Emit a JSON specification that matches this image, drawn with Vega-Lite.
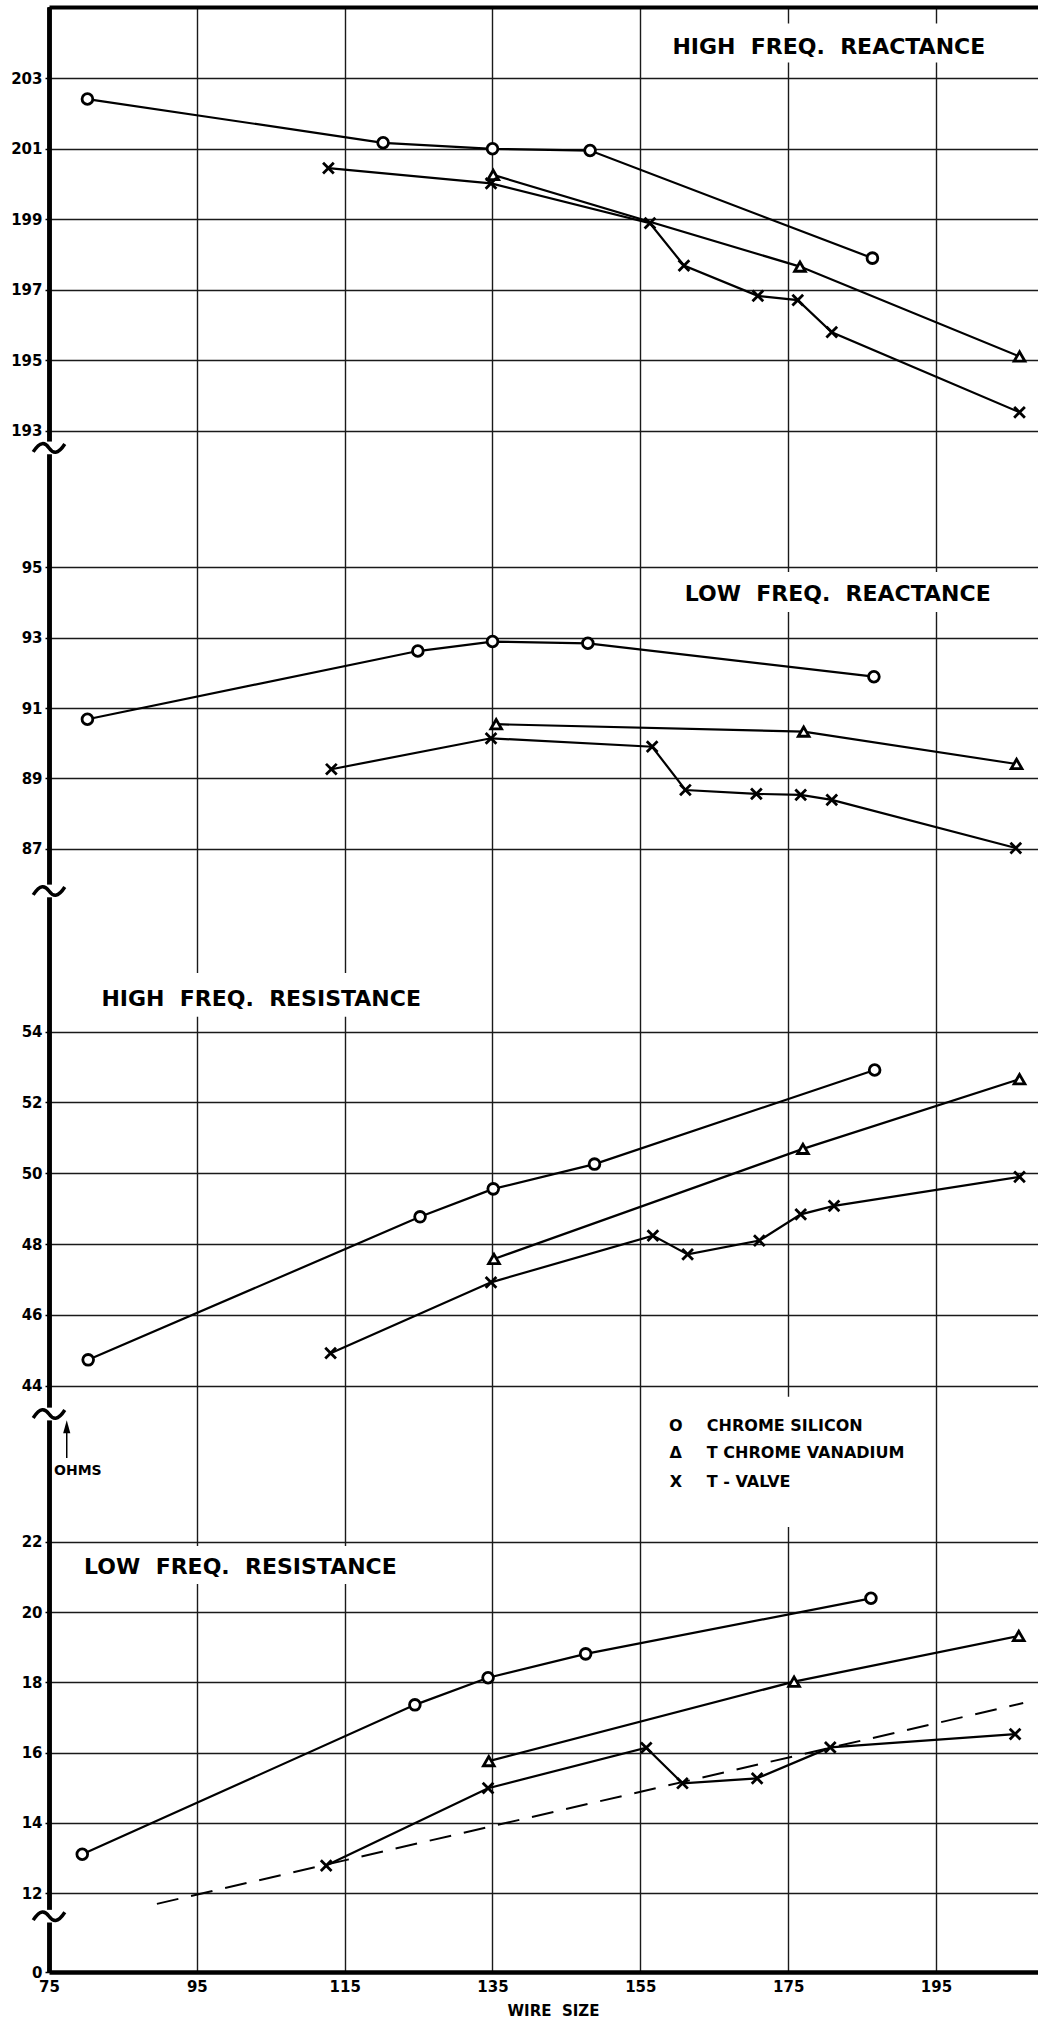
{
  "$schema": "https://vega.github.io/schema/vega-lite/v6.json",
  "width": 989,
  "height": 1965,
  "autosize": {"type": "none"},
  "padding": {"left": 49, "top": 7, "right": 0, "bottom": 48},
  "background": "white",
  "config": {
    "view": {"stroke": null},
    "font": "DejaVu Sans",
    "axis": {
      "domainColor": "black", "domainWidth": 4,
      "tickColor": "black", "tickWidth": 1.5, "tickSize": 4,
      "gridColor": "#1a1a1a", "gridWidth": 1.4, "gridOpacity": 1,
      "labelFont": "DejaVu Sans", "labelFontWeight": "bold", "labelFontSize": 15, "labelColor": "black", "labelPadding": 3,
      "titleFont": "DejaVu Sans", "titleFontWeight": "bold", "titleColor": "black"
    },
    "text": {"font": "DejaVu Sans", "fontWeight": "bold", "color": "black", "baseline": "middle"}
  },
  "datasets": {
    "curves": [
      {"panel": "HFX", "series": "CHROME SILICON", "wire": 80.2, "value": 202.41},
      {"panel": "HFX", "series": "CHROME SILICON", "wire": 120.2, "value": 201.17},
      {"panel": "HFX", "series": "CHROME SILICON", "wire": 135.0, "value": 201.0},
      {"panel": "HFX", "series": "CHROME SILICON", "wire": 148.2, "value": 200.95},
      {"panel": "HFX", "series": "CHROME SILICON", "wire": 186.4, "value": 197.9},
      {"panel": "HFX", "series": "T CHROME VANADIUM", "wire": 135.1, "value": 200.26},
      {"panel": "HFX", "series": "T CHROME VANADIUM", "wire": 176.6, "value": 197.66},
      {"panel": "HFX", "series": "T CHROME VANADIUM", "wire": 206.3, "value": 195.11},
      {"panel": "HFX", "series": "T - VALVE", "wire": 112.8, "value": 200.45},
      {"panel": "HFX", "series": "T - VALVE", "wire": 134.8, "value": 200.02},
      {"panel": "HFX", "series": "T - VALVE", "wire": 156.3, "value": 198.89},
      {"panel": "HFX", "series": "T - VALVE", "wire": 160.9, "value": 197.69},
      {"panel": "HFX", "series": "T - VALVE", "wire": 170.9, "value": 196.83},
      {"panel": "HFX", "series": "T - VALVE", "wire": 176.3, "value": 196.71},
      {"panel": "HFX", "series": "T - VALVE", "wire": 180.9, "value": 195.8},
      {"panel": "HFX", "series": "T - VALVE", "wire": 206.3, "value": 193.53},

      {"panel": "LFX", "series": "CHROME SILICON", "wire": 80.2, "value": 90.68},
      {"panel": "LFX", "series": "CHROME SILICON", "wire": 124.9, "value": 92.62},
      {"panel": "LFX", "series": "CHROME SILICON", "wire": 135.0, "value": 92.89},
      {"panel": "LFX", "series": "CHROME SILICON", "wire": 147.9, "value": 92.84},
      {"panel": "LFX", "series": "CHROME SILICON", "wire": 186.6, "value": 91.89},
      {"panel": "LFX", "series": "T CHROME VANADIUM", "wire": 135.5, "value": 90.54},
      {"panel": "LFX", "series": "T CHROME VANADIUM", "wire": 177.1, "value": 90.33},
      {"panel": "LFX", "series": "T CHROME VANADIUM", "wire": 205.9, "value": 89.41},
      {"panel": "LFX", "series": "T - VALVE", "wire": 113.2, "value": 89.26},
      {"panel": "LFX", "series": "T - VALVE", "wire": 134.8, "value": 90.14},
      {"panel": "LFX", "series": "T - VALVE", "wire": 156.6, "value": 89.9},
      {"panel": "LFX", "series": "T - VALVE", "wire": 161.1, "value": 88.67},
      {"panel": "LFX", "series": "T - VALVE", "wire": 170.7, "value": 88.56},
      {"panel": "LFX", "series": "T - VALVE", "wire": 176.7, "value": 88.53},
      {"panel": "LFX", "series": "T - VALVE", "wire": 180.9, "value": 88.39},
      {"panel": "LFX", "series": "T - VALVE", "wire": 205.8, "value": 87.02},

      {"panel": "HFR", "series": "CHROME SILICON", "wire": 80.3, "value": 44.73},
      {"panel": "HFR", "series": "CHROME SILICON", "wire": 125.2, "value": 48.77},
      {"panel": "HFR", "series": "CHROME SILICON", "wire": 135.1, "value": 49.56},
      {"panel": "HFR", "series": "CHROME SILICON", "wire": 148.8, "value": 50.26},
      {"panel": "HFR", "series": "CHROME SILICON", "wire": 186.7, "value": 52.92},
      {"panel": "HFR", "series": "T CHROME VANADIUM", "wire": 135.2, "value": 47.58},
      {"panel": "HFR", "series": "T CHROME VANADIUM", "wire": 177.0, "value": 50.69},
      {"panel": "HFR", "series": "T CHROME VANADIUM", "wire": 206.3, "value": 52.66},
      {"panel": "HFR", "series": "T - VALVE", "wire": 113.1, "value": 44.92},
      {"panel": "HFR", "series": "T - VALVE", "wire": 134.8, "value": 46.92},
      {"panel": "HFR", "series": "T - VALVE", "wire": 156.7, "value": 48.24},
      {"panel": "HFR", "series": "T - VALVE", "wire": 161.4, "value": 47.71},
      {"panel": "HFR", "series": "T - VALVE", "wire": 171.1, "value": 48.1},
      {"panel": "HFR", "series": "T - VALVE", "wire": 176.7, "value": 48.84},
      {"panel": "HFR", "series": "T - VALVE", "wire": 181.2, "value": 49.08},
      {"panel": "HFR", "series": "T - VALVE", "wire": 206.3, "value": 49.9},

      {"panel": "LFR", "series": "CHROME SILICON", "wire": 79.5, "value": 13.11},
      {"panel": "LFR", "series": "CHROME SILICON", "wire": 124.5, "value": 17.36},
      {"panel": "LFR", "series": "CHROME SILICON", "wire": 134.4, "value": 18.13},
      {"panel": "LFR", "series": "CHROME SILICON", "wire": 147.6, "value": 18.81},
      {"panel": "LFR", "series": "CHROME SILICON", "wire": 186.2, "value": 20.39},
      {"panel": "LFR", "series": "T CHROME VANADIUM", "wire": 134.5, "value": 15.76},
      {"panel": "LFR", "series": "T CHROME VANADIUM", "wire": 175.8, "value": 18.02},
      {"panel": "LFR", "series": "T CHROME VANADIUM", "wire": 206.2, "value": 19.32},
      {"panel": "LFR", "series": "T - VALVE", "wire": 112.5, "value": 12.79},
      {"panel": "LFR", "series": "T - VALVE", "wire": 134.4, "value": 14.99},
      {"panel": "LFR", "series": "T - VALVE", "wire": 155.8, "value": 16.14},
      {"panel": "LFR", "series": "T - VALVE", "wire": 160.7, "value": 15.13},
      {"panel": "LFR", "series": "T - VALVE", "wire": 170.8, "value": 15.27},
      {"panel": "LFR", "series": "T - VALVE", "wire": 180.7, "value": 16.15},
      {"panel": "LFR", "series": "T - VALVE", "wire": 205.7, "value": 16.53},
      {"panel": "LFR", "series": "TREND", "wire": 89.6, "value": 11.7},
      {"panel": "LFR", "series": "TREND", "wire": 206.8, "value": 17.41}
    ]
  },
  "resolve": {"scale": {"y": "independent"}, "axis": {"x": "independent", "y": "independent"}},
  "layer": [
    {
      "layer": [
        {"data": {"name": "curves"}, "transform": [{"filter": "datum.panel === 'HFX'"}],
         "mark": {"type": "line", "color": "black", "strokeWidth": 2.2},
         "encoding": {
           "x": {"field": "wire", "type": "quantitative", "scale": {"domain": [75, 208.8], "nice": false, "zero": false},
                 "axis": {"orient": "top", "labels": false, "ticks": false, "grid": false, "domainWidth": 4, "title": null}},
           "y": {"field": "value", "type": "quantitative", "scale": {"domain": [149.31, 205.02], "nice": false, "zero": false},
                 "axis": {"orient": "left", "values": [193, 195, 197, 199, 201, 203], "grid": true, "title": null}},
           "detail": {"field": "series"}}},
        {"data": {"values": [{}]}, "mark": {"type": "rect", "color": "white"},
         "encoding": {"x": {"datum": 157.6, "type": "quantitative"}, "x2": {"datum": 203.0},
                      "y": {"datum": 204.55, "type": "quantitative"}, "y2": {"datum": 203.45}}},
        {"data": {"name": "curves"}, "transform": [{"filter": "datum.panel === 'HFX'"}],
         "mark": {"type": "point", "filled": false, "fill": "white", "stroke": "black", "strokeWidth": 2.8, "size": 115, "opacity": 1},
         "encoding": {
           "x": {"field": "wire", "type": "quantitative"},
           "y": {"field": "value", "type": "quantitative"},
           "shape": {"field": "series", "type": "nominal", "scale": {"domain": ["CHROME SILICON", "T CHROME VANADIUM", "T - VALVE"], "range": ["circle", "triangle-up", "M-1,-1L1,1M-1,1L1,-1"]}, "legend": null}}},
        {"data": {"values": [{}]}, "mark": {"type": "text", "fontSize": 22, "align": "center"},
         "encoding": {"x": {"datum": 180.5, "type": "quantitative"}, "y": {"datum": 203.89, "type": "quantitative"},
                      "text": {"value": "HIGH\u00a0 FREQ.\u00a0 REACTANCE"}}},
        {"data": {"values": [{}]}, "mark": {"type": "rule", "color": "white", "strokeWidth": 9},
         "encoding": {"x": {"datum": 75, "type": "quantitative"}, "y": {"datum": 192.7, "type": "quantitative"}, "y2": {"datum": 192.34}}},
        {"data": {"values": [{}]}, "mark": {"type": "point", "shape": "M-1,0.25C-0.55,-0.45 -0.25,-0.35 0,0C0.25,0.35 0.55,0.45 1,-0.25", "filled": false, "stroke": "black", "strokeWidth": 3.5, "size": 1000, "opacity": 1},
         "encoding": {"x": {"datum": 75, "type": "quantitative"}, "y": {"datum": 192.52, "type": "quantitative"}}}
      ]
    },
    {
      "layer": [
        {"data": {"name": "curves"}, "transform": [{"filter": "datum.panel === 'LFX'"}],
         "mark": {"type": "line", "color": "black", "strokeWidth": 2.2},
         "encoding": {
           "x": {"field": "wire", "type": "quantitative", "scale": {"domain": [75, 208.8], "nice": false, "zero": false}, "axis": null},
           "y": {"field": "value", "type": "quantitative", "scale": {"domain": [55.071, 110.927], "nice": false, "zero": false},
                 "axis": {"orient": "left", "values": [87, 89, 91, 93, 95], "grid": true, "title": null}},
           "detail": {"field": "series"}}},
        {"data": {"values": [{}]}, "mark": {"type": "rect", "color": "white"},
         "encoding": {"x": {"datum": 160.0, "type": "quantitative", "axis": null}, "x2": {"datum": 203.4},
                      "y": {"datum": 94.87, "type": "quantitative"}, "y2": {"datum": 93.73}}},
        {"data": {"name": "curves"}, "transform": [{"filter": "datum.panel === 'LFX'"}],
         "mark": {"type": "point", "filled": false, "fill": "white", "stroke": "black", "strokeWidth": 2.8, "size": 115, "opacity": 1},
         "encoding": {
           "x": {"field": "wire", "type": "quantitative", "axis": null},
           "y": {"field": "value", "type": "quantitative"},
           "shape": {"field": "series", "type": "nominal", "scale": {"domain": ["CHROME SILICON", "T CHROME VANADIUM", "T - VALVE"], "range": ["circle", "triangle-up", "M-1,-1L1,1M-1,1L1,-1"]}, "legend": null}}},
        {"data": {"values": [{}]}, "mark": {"type": "text", "fontSize": 22, "align": "center"},
         "encoding": {"x": {"datum": 181.7, "type": "quantitative", "axis": null}, "y": {"datum": 94.24, "type": "quantitative"},
                      "text": {"value": "LOW\u00a0 FREQ.\u00a0 REACTANCE"}}},
        {"data": {"values": [{}]}, "mark": {"type": "rule", "color": "white", "strokeWidth": 9},
         "encoding": {"x": {"datum": 75, "type": "quantitative", "axis": null}, "y": {"datum": 85.98, "type": "quantitative"}, "y2": {"datum": 85.62}}},
        {"data": {"values": [{}]}, "mark": {"type": "point", "shape": "M-1,0.25C-0.55,-0.45 -0.25,-0.35 0,0C0.25,0.35 0.55,0.45 1,-0.25", "filled": false, "stroke": "black", "strokeWidth": 3.5, "size": 1000, "opacity": 1},
         "encoding": {"x": {"datum": 75, "type": "quantitative", "axis": null}, "y": {"datum": 85.8, "type": "quantitative"}}}
      ]
    },
    {
      "layer": [
        {"data": {"name": "curves"}, "transform": [{"filter": "datum.panel === 'HFR'"}],
         "mark": {"type": "line", "color": "black", "strokeWidth": 2.2},
         "encoding": {
           "x": {"field": "wire", "type": "quantitative", "scale": {"domain": [75, 208.8], "nice": false, "zero": false}, "axis": null},
           "y": {"field": "value", "type": "quantitative", "scale": {"domain": [27.438, 82.946], "nice": false, "zero": false},
                 "axis": {"orient": "left", "values": [44, 46, 48, 50, 52, 54], "grid": true, "title": null}},
           "detail": {"field": "series"}}},
        {"data": {"values": [{}]}, "mark": {"type": "rect", "color": "white"},
         "encoding": {"x": {"datum": 80.5, "type": "quantitative", "axis": null}, "x2": {"datum": 126.8},
                      "y": {"datum": 55.66, "type": "quantitative"}, "y2": {"datum": 54.42}}},
        {"data": {"name": "curves"}, "transform": [{"filter": "datum.panel === 'HFR'"}],
         "mark": {"type": "point", "filled": false, "fill": "white", "stroke": "black", "strokeWidth": 2.8, "size": 115, "opacity": 1},
         "encoding": {
           "x": {"field": "wire", "type": "quantitative", "axis": null},
           "y": {"field": "value", "type": "quantitative"},
           "shape": {"field": "series", "type": "nominal", "scale": {"domain": ["CHROME SILICON", "T CHROME VANADIUM", "T - VALVE"], "range": ["circle", "triangle-up", "M-1,-1L1,1M-1,1L1,-1"]}, "legend": null}}},
        {"data": {"values": [{}]}, "mark": {"type": "text", "fontSize": 22, "align": "center"},
         "encoding": {"x": {"datum": 103.7, "type": "quantitative", "axis": null}, "y": {"datum": 54.91, "type": "quantitative"},
                      "text": {"value": "HIGH\u00a0 FREQ.\u00a0 RESISTANCE"}}},
        {"data": {"values": [{}]}, "mark": {"type": "rule", "color": "white", "strokeWidth": 9},
         "encoding": {"x": {"datum": 75, "type": "quantitative", "axis": null}, "y": {"datum": 43.38, "type": "quantitative"}, "y2": {"datum": 43.02}}},
        {"data": {"values": [{}]}, "mark": {"type": "point", "shape": "M-1,0.25C-0.55,-0.45 -0.25,-0.35 0,0C0.25,0.35 0.55,0.45 1,-0.25", "filled": false, "stroke": "black", "strokeWidth": 3.5, "size": 1000, "opacity": 1},
         "encoding": {"x": {"datum": 75, "type": "quantitative", "axis": null}, "y": {"datum": 43.2, "type": "quantitative"}}}
      ]
    },
    {
      "layer": [
        {"data": {"name": "curves"}, "transform": [{"filter": "datum.panel === 'LFR' && datum.series !== 'TREND'"}],
         "mark": {"type": "line", "color": "black", "strokeWidth": 2.2},
         "encoding": {
           "x": {"field": "wire", "type": "quantitative", "scale": {"domain": [75, 208.8], "nice": false, "zero": false},
                 "axis": {"orient": "bottom", "values": [75, 95, 115, 135, 155, 175, 195], "grid": true, "ticks": false, "tickSize": 0,
                          "domainWidth": 4.5, "labelFlush": false, "labelPadding": 7, "labelFontSize": 15,
                          "title": "WIRE\u00a0 SIZE", "titleFontSize": 15, "titleX": 504, "titleY": 38, "titleAlign": "center", "titleBaseline": "middle"}},
           "y": {"field": "value", "type": "quantitative", "scale": {"domain": [9.762, 65.649], "nice": false, "zero": false},
                 "axis": {"orient": "left", "values": [9.762, 12, 14, 16, 18, 20, 22], "grid": true, "title": null,
                          "labelExpr": "datum.value < 10 ? '0' : datum.label"}},
           "detail": {"field": "series"}}},
        {"data": {"values": [{}]}, "mark": {"type": "rect", "color": "white"},
         "encoding": {"x": {"datum": 78.9, "type": "quantitative"}, "x2": {"datum": 122.7},
                      "y": {"datum": 21.88, "type": "quantitative"}, "y2": {"datum": 20.8}}},
        {"data": {"values": [{}]}, "mark": {"type": "rect", "color": "white"},
         "encoding": {"x": {"datum": 157.0, "type": "quantitative"}, "x2": {"datum": 193.5},
                      "y": {"datum": 26.12, "type": "quantitative"}, "y2": {"datum": 22.42}}},
        {"data": {"name": "curves"}, "transform": [{"filter": "datum.panel === 'LFR' && datum.series === 'TREND'"}],
         "mark": {"type": "line", "color": "black", "strokeWidth": 2, "strokeDash": [22, 13]},
         "encoding": {
           "x": {"field": "wire", "type": "quantitative"},
           "y": {"field": "value", "type": "quantitative"}}},
        {"data": {"name": "curves"}, "transform": [{"filter": "datum.panel === 'LFR' && datum.series !== 'TREND'"}],
         "mark": {"type": "point", "filled": false, "fill": "white", "stroke": "black", "strokeWidth": 2.8, "size": 115, "opacity": 1},
         "encoding": {
           "x": {"field": "wire", "type": "quantitative"},
           "y": {"field": "value", "type": "quantitative"},
           "shape": {"field": "series", "type": "nominal", "scale": {"domain": ["CHROME SILICON", "T CHROME VANADIUM", "T - VALVE"], "range": ["circle", "triangle-up", "M-1,-1L1,1M-1,1L1,-1"]}, "legend": null}}},
        {"data": {"values": [{}]}, "mark": {"type": "text", "fontSize": 16, "align": "center"},
         "encoding": {"x": {"datum": 159.8, "type": "quantitative"}, "y": {"datum": 25.29, "type": "quantitative"}, "text": {"value": "O"}}},
        {"data": {"values": [{}]}, "mark": {"type": "text", "fontSize": 16, "align": "center"},
         "encoding": {"x": {"datum": 159.8, "type": "quantitative"}, "y": {"datum": 24.52, "type": "quantitative"}, "text": {"value": "Δ"}}},
        {"data": {"values": [{}]}, "mark": {"type": "text", "fontSize": 16, "align": "center"},
         "encoding": {"x": {"datum": 159.8, "type": "quantitative"}, "y": {"datum": 23.7, "type": "quantitative"}, "text": {"value": "X"}}},
        {"data": {"values": [{}]}, "mark": {"type": "text", "fontSize": 16, "align": "left"},
         "encoding": {"x": {"datum": 164.0, "type": "quantitative"}, "y": {"datum": 25.29, "type": "quantitative"}, "text": {"value": "CHROME SILICON"}}},
        {"data": {"values": [{}]}, "mark": {"type": "text", "fontSize": 16, "align": "left"},
         "encoding": {"x": {"datum": 164.0, "type": "quantitative"}, "y": {"datum": 24.52, "type": "quantitative"}, "text": {"value": "T CHROME VANADIUM"}}},
        {"data": {"values": [{}]}, "mark": {"type": "text", "fontSize": 16, "align": "left"},
         "encoding": {"x": {"datum": 164.0, "type": "quantitative"}, "y": {"datum": 23.7, "type": "quantitative"}, "text": {"value": "T - VALVE"}}},
        {"data": {"values": [{}]}, "mark": {"type": "text", "fontSize": 22, "align": "center"},
         "encoding": {"x": {"datum": 100.9, "type": "quantitative"}, "y": {"datum": 21.28, "type": "quantitative"},
                      "text": {"value": "LOW\u00a0 FREQ.\u00a0 RESISTANCE"}}},
        {"data": {"values": [{}]}, "mark": {"type": "rule", "color": "white", "strokeWidth": 9},
         "encoding": {"x": {"datum": 75, "type": "quantitative"}, "y": {"datum": 11.53, "type": "quantitative"}, "y2": {"datum": 11.17}}},
        {"data": {"values": [{}]}, "mark": {"type": "point", "shape": "M-1,0.25C-0.55,-0.45 -0.25,-0.35 0,0C0.25,0.35 0.55,0.45 1,-0.25", "filled": false, "stroke": "black", "strokeWidth": 3.5, "size": 1000, "opacity": 1},
         "encoding": {"x": {"datum": 75, "type": "quantitative"}, "y": {"datum": 11.35, "type": "quantitative"}}},
        {"data": {"values": [{}]}, "mark": {"type": "rule", "color": "black", "strokeWidth": 1.5},
         "encoding": {"x": {"datum": 77.4, "type": "quantitative"}, "y": {"datum": 24.38, "type": "quantitative"}, "y2": {"datum": 25.1}}},
        {"data": {"values": [{}]}, "mark": {"type": "point", "shape": "M0,-1L0.55,1L-0.55,1Z", "filled": true, "color": "black", "size": 170, "opacity": 1},
         "encoding": {"x": {"datum": 77.4, "type": "quantitative"}, "y": {"datum": 25.27, "type": "quantitative"}}},
        {"data": {"values": [{}]}, "mark": {"type": "text", "fontSize": 14, "align": "center"},
         "encoding": {"x": {"datum": 78.9, "type": "quantitative"}, "y": {"datum": 24.01, "type": "quantitative"},
                      "text": {"value": "OHMS"}}}
      ]
    }
  ]
}
